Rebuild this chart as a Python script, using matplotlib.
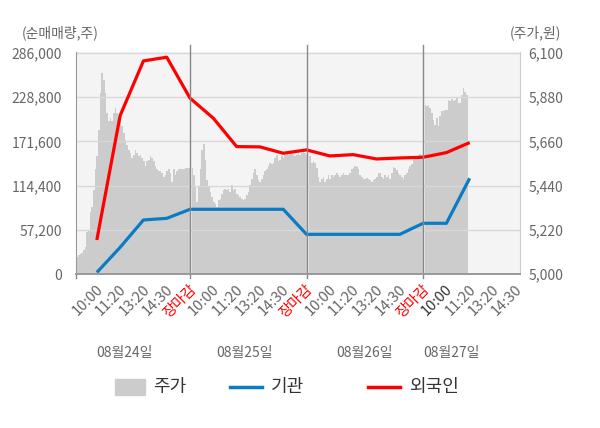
import matplotlib.pyplot as plt
import matplotlib.transforms as mtransforms
from matplotlib.lines import Line2D
from matplotlib.patches import Rectangle
import numpy as np

plt.rcParams['font.family'] = ['Noto Sans CJK KR', 'DejaVu Sans']

# 주가 (원) - 하루 70구간 샘플
price_d1 = [5073, 5085, 5095, 5100, 5105, 5120, 5135, 5210, 5220, 5310,
            5335, 5420, 5520, 5585, 5715, 5900, 6000, 5965, 5900, 5800,
            5760, 5775, 5760, 5800, 5825, 5800, 5760, 5765, 5735, 5700,
            5665, 5640, 5615, 5600, 5575, 5590, 5615, 5600, 5585, 5590,
            5575, 5560, 5535, 5560, 5565, 5585, 5575, 5560, 5535, 5520,
            5510, 5510, 5500, 5485, 5495, 5510, 5520, 5500, 5460, 5520,
            5495, 5510, 5520, 5520, 5520, 5520, 5525, 5525, 5525, 5525]
price_d2 = [5525, 5495, 5435, 5360, 5435, 5520, 5615, 5645, 5565, 5470,
            5435, 5410, 5385, 5360, 5350, 5335, 5370, 5375, 5400, 5420,
            5425, 5420, 5425, 5410, 5445, 5420, 5425, 5400, 5395, 5385,
            5375, 5370, 5375, 5395, 5410, 5445, 5475, 5500, 5520, 5495,
            5470, 5460, 5475, 5495, 5510, 5520, 5535, 5550, 5545, 5550,
            5575, 5590, 5560, 5565, 5585, 5575, 5590, 5600, 5590, 5595,
            5600, 5590, 5585, 5590, 5600, 5590, 5600, 5605, 5600, 5590]
price_d3 = [5590, 5585, 5550, 5560, 5550, 5525, 5485, 5460, 5475, 5485,
            5460, 5475, 5495, 5475, 5495, 5485, 5495, 5500, 5495, 5485,
            5495, 5500, 5495, 5495, 5495, 5500, 5520, 5525, 5535, 5530,
            5520, 5495, 5485, 5475, 5475, 5480, 5475, 5470, 5460, 5470,
            5475, 5485, 5500, 5500, 5485, 5475, 5495, 5485, 5495, 5475,
            5500, 5530, 5525, 5515, 5500, 5495, 5485, 5475, 5495, 5500,
            5520, 5535, 5545, 5565, 5585, 5585, 5590, 5595, 5590, 5590]
price_d4 = [5840, 5835, 5840, 5825, 5800, 5765, 5740, 5775, 5735, 5785,
            5810, 5810, 5815, 5815, 5865, 5860, 5870, 5860, 5865, 5880,
            5850, 5850, 5890, 5925, 5905, 5890, 5900]

# 순매매량 (주), 눈금 위치마다
foreign = [44000, 204900, 275600, 280400, 227400, 201500, 164800, 164400, 156200,
           160500, 152700, 154400, 148800, 150100, 151000, 157000, 170000]
inst = [2000, 34500, 69900, 72000, 83700, 83700, 83700, 83700, 83700,
        51300, 51300, 51300, 51300, 51300, 65600, 65600, 123800]

day_ticks = ['10:00', '11:20', '13:20', '14:30', '장마감']
dates = ['08월24일', '08월25일', '08월26일', '08월27일']
left_ticks = [0, 57200, 114400, 171600, 228800, 286000]
right_ticks = [5000, 5220, 5440, 5660, 5880, 6100]

tick_labels = day_ticks * 3 + day_ticks[:4]
tick_pos = np.arange(1, len(tick_labels) + 1)

fig = plt.figure(figsize=(6, 4.28), dpi=100)
ax = fig.add_axes([0.1267, 0.3598, 0.74, 0.5187])
ax2 = ax.twinx()
ax.set_zorder(ax2.get_zorder() + 1)
ax.patch.set_visible(False)
ax2.patch.set_visible(True)
ax2.set_facecolor('#f4f4f4')

# 주가 영역
step = 5 / 70
for d, p in enumerate([price_d1, price_d2, price_d3, price_d4]):
    xs = d * 5 + (np.arange(len(p)) + 1.2) * step
    ax2.fill_between(xs, 5000, p, color='#cccccc', lw=0, step='mid')

xl = np.arange(1, len(foreign) + 1)
ax.plot(xl, inst, color='#0a7cc4', lw=2.3, solid_capstyle='butt')
ax.plot(xl, foreign, color='#ff0000', lw=2.3, solid_capstyle='butt')

# 축 설정: 왼쪽 = 순매매량, 오른쪽 = 주가
ax.set_ylim(0, 286000 * 1.004)
ax2.set_ylim(5000, 6100 + 1100 * 0.004)
ax.set_yticks(left_ticks)
ax.set_yticklabels([f'{v:,}' for v in left_ticks])
ax2.set_yticks(right_ticks)
ax2.set_yticklabels([f'{v:,}' for v in right_ticks])
ax.tick_params(axis='y', length=0, pad=10, labelsize=10, labelcolor='#666666')
ax2.tick_params(axis='y', length=0, pad=6, labelsize=10, labelcolor='#666666')
ax.grid(axis='y', color='#d8d8d8', lw=1)

ax.set_xlim(0.107, 19.16)
for a in (ax, ax2):
    a.spines['top'].set_visible(False)
ax.spines['left'].set_color('#999999')
ax.spines['right'].set_color('#cccccc')
ax.spines['bottom'].set_color('#999999')
ax.spines['bottom'].set_linewidth(1.4)
ax2.spines['left'].set_visible(False)
ax2.spines['right'].set_visible(False)
ax2.spines['bottom'].set_visible(False)

ax.set_xticks(tick_pos)
ax.set_xticklabels(tick_labels, rotation=45, ha='right', va='center',
                   rotation_mode='anchor', fontsize=10.5, color='#666666')
ax.tick_params(axis='x', length=0, pad=8)
shift = mtransforms.ScaledTranslation(4 / 100, -2 / 100, fig.dpi_scale_trans)
for i, lab in enumerate(ax.get_xticklabels()):
    lab.set_transform(lab.get_transform() + shift)
    if lab.get_text() == '장마감':
        lab.set_color('#ff0000')
    if i == 15:
        lab.set_color('#333333')

for b in (5, 10, 15):
    ax.axvline(b, ymin=-0.018, ymax=1.03, color='#888888', lw=1, clip_on=False)
ax.axvline(0.107, ymin=-0.018, ymax=0, color='#888888', lw=1, clip_on=False)

trans = mtransforms.blended_transform_factory(ax.transData, fig.transFigure)
for x, t in zip([2.2, 7.35, 12.5, 16.2], dates):
    fig.text(x, 0.175, t, transform=trans, ha='center', va='center',
             fontsize=10, color='#666666')

fig.text(0.037, 0.923, '(순매매량,주)', fontsize=10, color='#666666', va='center')
fig.text(0.936, 0.923, '(주가,원)', fontsize=10, color='#666666', va='center', ha='right')

# 범례
ly = 1 - 387 / 428
fig.patches.append(Rectangle((115 / 600, ly - 8 / 428), 30 / 600, 16 / 428,
                             transform=fig.transFigure, color='#cccccc'))
fig.text(153 / 600, ly, '주가', fontsize=13, color='#333333', va='center')
fig.lines.append(Line2D([230 / 600, 262 / 600], [ly, ly], transform=fig.transFigure,
                        color='#0a7cc4', lw=2.5))
fig.text(271 / 600, ly, '기관', fontsize=13, color='#333333', va='center')
fig.lines.append(Line2D([368 / 600, 400 / 600], [ly, ly], transform=fig.transFigure,
                        color='#ff0000', lw=2.5))
fig.text(409 / 600, ly, '외국인', fontsize=13, color='#333333', va='center')

fig.savefig('out.png', dpi=100)
